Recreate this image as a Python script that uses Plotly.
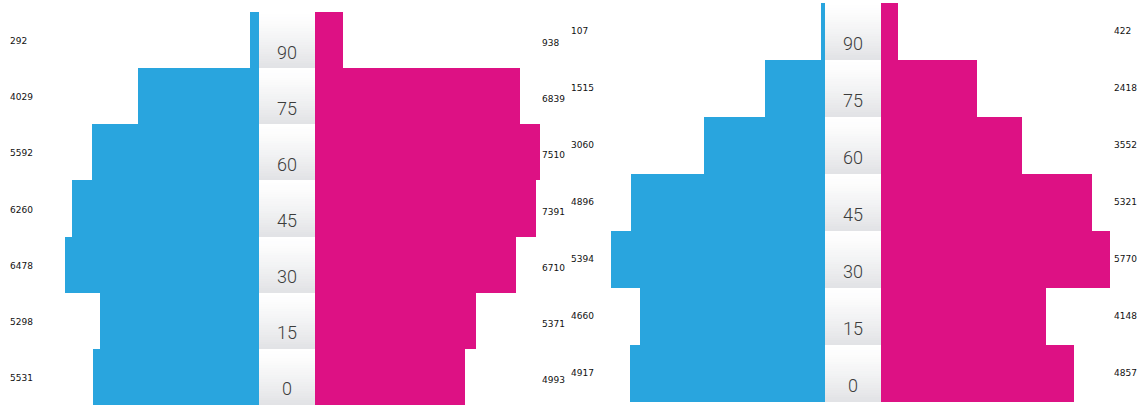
import plotly.graph_objects as go

W, H = 1138, 405

ages = ["0", "15", "30", "45", "60", "75", "90"]
left_male = [5531, 5298, 6478, 6260, 5592, 4029, 292]
left_female = [4993, 5371, 6710, 7391, 7510, 6839, 938]
right_male = [4917, 4660, 5394, 4896, 3060, 1515, 107]
right_female = [4857, 4148, 5770, 5321, 3552, 2418, 422]

BLUE = "#29a5de"
PINK = "#dd1184"

rows = list(range(len(ages)))

fig = go.Figure()

def px(v):
    return v / W

# gradient heatmap for center columns (decoration)
N = 24
gy, gz = [], []
for i in rows:
    for k in range(N):
        gy.append(i - 0.5 + (k + 0.5) / N)
        t = 1 - (k + 0.5) / N  # 1 at bottom
        gz.append([t ** 1.3])
grad_scale = [[0, "#ffffff"], [1, "#e1e2e5"]]

# Left panel
fig.add_trace(go.Bar(y=rows, x=left_male, orientation="h", width=1,
                     marker=dict(color=BLUE, line=dict(width=0)),
                     xaxis="x", yaxis="y", hoverinfo="x"))
fig.add_trace(go.Bar(y=rows, x=left_female, orientation="h", width=1,
                     marker=dict(color=PINK, line=dict(width=0)),
                     xaxis="x2", yaxis="y", hoverinfo="x"))
fig.add_trace(go.Heatmap(x=[0], y=gy, z=gz, colorscale=grad_scale, zmin=0, zmax=1,
                         showscale=False, xaxis="x3", yaxis="y", hoverinfo="skip"))
# Right panel
fig.add_trace(go.Bar(y=rows, x=right_male, orientation="h", width=1,
                     marker=dict(color=BLUE, line=dict(width=0)),
                     xaxis="x4", yaxis="y2", hoverinfo="x"))
fig.add_trace(go.Bar(y=rows, x=right_female, orientation="h", width=1,
                     marker=dict(color=PINK, line=dict(width=0)),
                     xaxis="x5", yaxis="y2", hoverinfo="x"))
fig.add_trace(go.Heatmap(x=[0], y=gy, z=gz, colorscale=grad_scale, zmin=0, zmax=1,
                         showscale=False, xaxis="x6", yaxis="y2", hoverinfo="skip"))

hidden = dict(showgrid=False, zeroline=False, showticklabels=False, showline=False, ticks="")

s1 = 0.02995  # px per person, left panel
s2 = 0.0397   # px per person, right panel
row2 = 57.0   # px per row, right panel

fig.update_layout(
    width=W, height=H,
    margin=dict(l=0, r=0, t=0, b=0),
    paper_bgcolor="white", plot_bgcolor="rgba(0,0,0,0)",
    showlegend=False, bargap=0, barmode="overlay",
    xaxis=dict(domain=[0, px(259)], range=[259 / s1, 0], anchor="y", **hidden),
    xaxis2=dict(domain=[px(315), px(565)], range=[0, 250 / s1], anchor="y", **hidden),
    xaxis3=dict(domain=[px(259), px(315)], range=[-0.5, 0.5], anchor="y", **hidden),
    xaxis4=dict(domain=[px(590), px(825)], range=[235 / s2, 0], anchor="y2", **hidden),
    xaxis5=dict(domain=[px(881), px(1130)], range=[0, 249 / s2], anchor="y2", **hidden),
    xaxis6=dict(domain=[px(825), px(881)], range=[-0.5, 0.5], anchor="y2", **hidden),
    yaxis=dict(domain=[0, (H - 12) / H], range=[-0.5, 6.5], anchor="x", **hidden),
    yaxis2=dict(domain=[0, (H - 3) / H], range=[-0.5 - 3 / row2, 6.5], anchor="x4", **hidden),
)

ann = []
age_font = dict(family="Roboto, Liberation Sans, Arial, sans-serif", size=18,
                color="#3c3c3c", weight=300)
val_font = dict(family="DejaVu Sans, Verdana, sans-serif", size=9, color="#111111")
for i in rows:
    ann.append(dict(x=0, y=i, xref="x3", yref="y", text=ages[i], showarrow=False,
                    font=age_font, xanchor="center", yanchor="middle", yshift=-12))
    ann.append(dict(x=0, y=i, xref="x6", yref="y2", text=ages[i], showarrow=False,
                    font=age_font, xanchor="center", yanchor="middle", yshift=-12))
    ann.append(dict(x=px(8), y=i, xref="paper", yref="y", text=str(left_male[i]),
                    showarrow=False, font=val_font, xanchor="left", yanchor="middle", yshift=-1))
    ann.append(dict(x=px(540), y=i, xref="paper", yref="y", text=str(left_female[i]),
                    showarrow=False, font=val_font, xanchor="left", yanchor="middle", yshift=-3))
    ann.append(dict(x=px(569), y=i, xref="paper", yref="y2", text=str(right_male[i]),
                    showarrow=False, font=val_font, xanchor="left", yanchor="middle", yshift=1))
    ann.append(dict(x=px(1112), y=i, xref="paper", yref="y2", text=str(right_female[i]),
                    showarrow=False, font=val_font, xanchor="left", yanchor="middle", yshift=1))
fig.update_layout(annotations=ann)

fig.write_html("out.html", config={"displayModeBar": False},
               post_script="document.body.style.margin='0';document.body.style.overflow='hidden';")
